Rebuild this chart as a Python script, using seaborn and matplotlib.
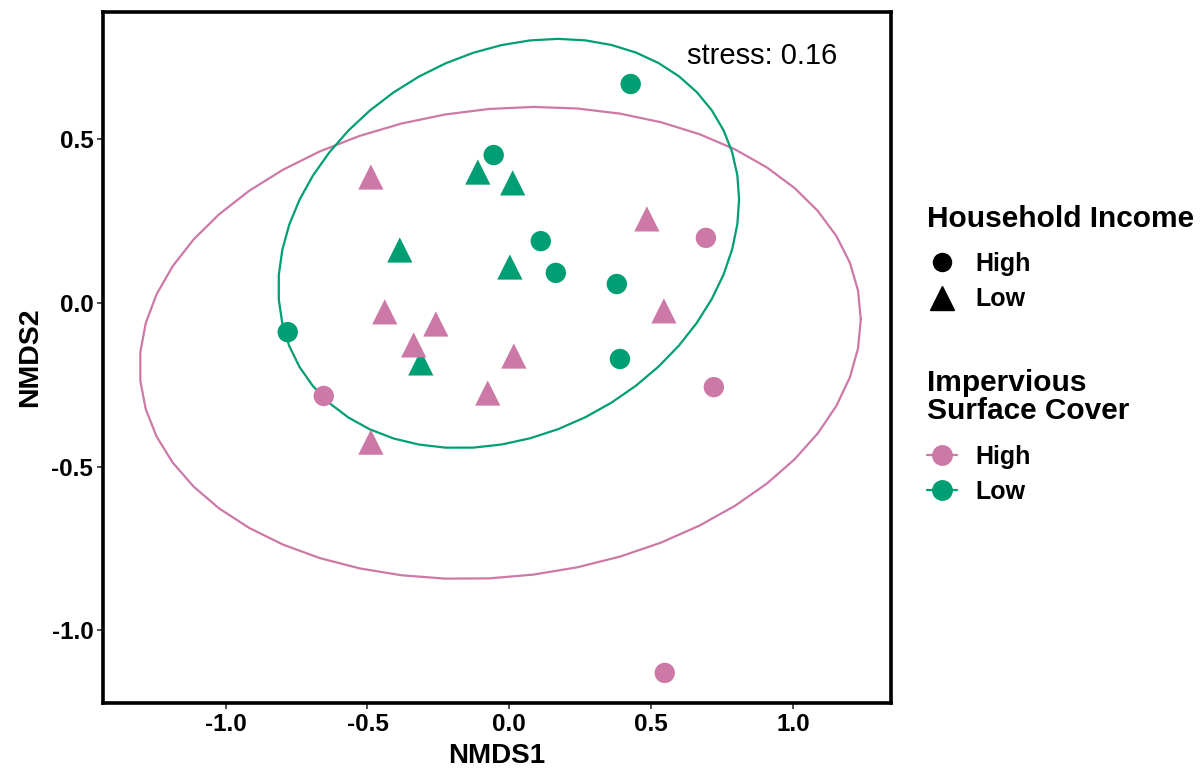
import numpy as np
import pandas as pd
import matplotlib
matplotlib.use("Agg")
import matplotlib.pyplot as plt
import seaborn as sns
from matplotlib.lines import Line2D

# ---- data ----
nmds1 = [0.428, -0.055, 0.111, 0.164, 0.379, 0.390, -0.781,
         -0.111, 0.012, -0.386, 0.002, -0.312,
         0.693, 0.721, -0.654, 0.548,
         -0.488, 0.485, -0.439, -0.259, -0.337, 0.016, 0.545, -0.076, -0.488]
nmds2 = [0.669, 0.452, 0.189, 0.092, 0.058, -0.171, -0.089,
         0.400, 0.367, 0.162, 0.110, -0.183,
         0.199, -0.257, -0.284, -1.130,
         0.385, 0.257, -0.027, -0.064, -0.128, -0.162, -0.024, -0.275, -0.425]
impervious = ["Low"] * 12 + ["High"] * 13
income = (["High"] * 7 + ["Low"] * 5 + ["High"] * 4 + ["Low"] * 9)

# ellipse parameters per impervious group: centre, half-extents, correlation
ell_groups = ["High", "Low"]
ell_cx = [-0.032, -0.002]
ell_cy = [-0.122, 0.182]
ell_ax = [1.271, 0.812]
ell_ay = [0.721, 0.625]
ell_r = [0.10, 0.215]

stress_value = 0.16
palette = {"High": "#CC79A7", "Low": "#009E73"}
x_ticks = [-1.0, -0.5, 0.0, 0.5, 1.0]
y_ticks = [-1.0, -0.5, 0.0, 0.5]

df = pd.DataFrame({"NMDS1": nmds1, "NMDS2": nmds2,
                   "Impervious": impervious, "Income": income})

# ellipse outlines
t = np.linspace(0, 2 * np.pi, 52)
rows = []
for g, cx, cy, a, b, r in zip(ell_groups, ell_cx, ell_cy, ell_ax, ell_ay, ell_r):
    ex = cx + a * np.cos(t)
    ey = cy + b * (r * np.cos(t) + np.sqrt(1 - r ** 2) * np.sin(t))
    for i, (xx, yy) in enumerate(zip(ex, ey)):
        rows.append({"grp": g, "i": i, "x": xx, "y": yy})
ell_df = pd.DataFrame(rows)

sns.set_style("white")
plt.rcParams["font.family"] = ["Liberation Sans", "DejaVu Sans"]
plt.rcParams["text.color"] = "black"
plt.rcParams["axes.labelcolor"] = "black"
plt.rcParams["xtick.color"] = "black"
plt.rcParams["ytick.color"] = "black"

fig = plt.figure(figsize=(12.01, 7.69), dpi=100)
ax = fig.add_axes([0.0858, 0.0858, 0.6562, 0.8986])

for g in ell_groups:
    sub = ell_df[ell_df.grp == g]
    sns.lineplot(data=sub, x="x", y="y", sort=False, estimator=None,
                 color=palette[g], linewidth=1.6, ax=ax, zorder=2)

sns.scatterplot(data=df, x="NMDS1", y="NMDS2", hue="Impervious", style="Income",
                markers={"High": "o", "Low": "^"}, palette=palette,
                size="Income", sizes={"High": 215, "Low": 330},
                linewidth=0, ax=ax, legend=False, zorder=3)

ax.set_xlim(-1.432, 1.346)
ax.set_ylim(-1.222, 0.889)
ax.set_xticks(x_ticks)
ax.set_yticks(y_ticks)
ax.set_xticklabels([f"{v:.1f}" for v in x_ticks], fontsize=17.5, fontweight="bold")
ax.set_yticklabels([f"{v:.1f}" for v in y_ticks], fontsize=17.5, fontweight="bold")
ax.tick_params(axis="both", length=4, width=1.2, pad=3,
               bottom=True, left=True)
ax.tick_params(axis="both", which="major", color="#333333")
ax.set_xlabel("NMDS1", fontsize=20, fontweight="bold", labelpad=5.5)
ax.set_ylabel("NMDS2", fontsize=20.5, fontweight="bold", labelpad=6)
for s in ax.spines.values():
    s.set_visible(True)
    s.set_color("black")
    s.set_linewidth(2.6)

ax.text(1.155, 0.755, f"stress: {stress_value}", ha="right", va="center",
        fontsize=21)

# legends
leg_kw = dict(loc="upper left", frameon=False, alignment="left",
              prop={"size": 18, "weight": "bold"},
              handletextpad=0.75, labelspacing=0.45, handlelength=1.2,
              borderpad=0.4)
h_income = [Line2D([], [], marker="o", color="black", linestyle="none", markersize=13),
            Line2D([], [], marker="^", color="black", linestyle="none", markersize=17)]
leg1 = fig.legend(h_income, ["High", "Low"], title="Household Income",
                  bbox_to_anchor=(0.753, 0.763), **leg_kw)
leg1.get_title().set_fontsize(21.5)
leg1.get_title().set_fontweight("bold")
leg1._legend_box.sep = 14

h_imp = [Line2D([], [], marker="o", color=palette["High"], linewidth=1.6, markersize=14),
         Line2D([], [], marker="o", color=palette["Low"], linewidth=1.6, markersize=14)]
leg2 = fig.legend(h_imp, ["High", "Low"], title="Impervious\nSurface Cover",
                  bbox_to_anchor=(0.753, 0.549), **leg_kw)
leg2.get_title().set_fontsize(21.5)
leg2.get_title().set_fontweight("bold")
leg2.get_title().set_linespacing(1.0)
leg2._legend_box.sep = 14

fig.savefig("out.png", dpi=100)
